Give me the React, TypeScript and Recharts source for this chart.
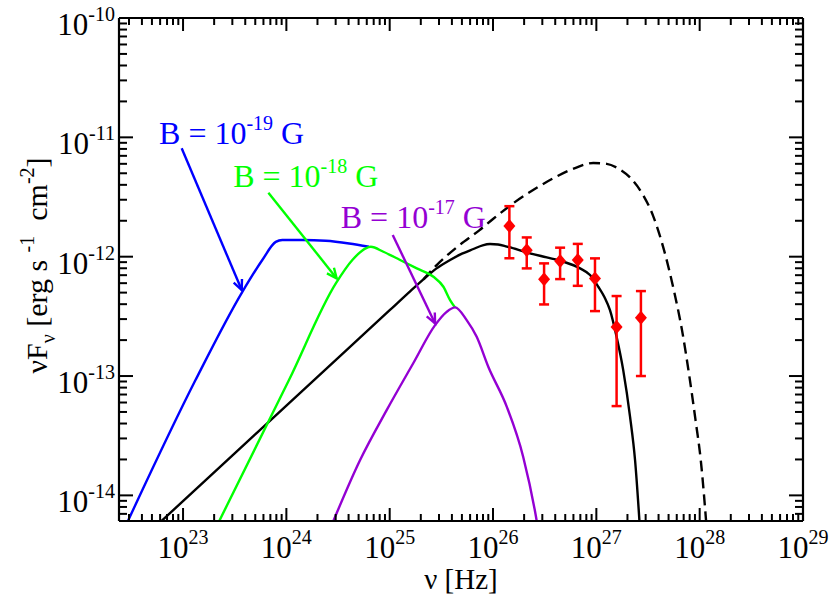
import React from "react";
import {
  ComposedChart,
  Line,
  Scatter,
  ErrorBar,
  XAxis,
  YAxis,
  ReferenceLine,
  ReferenceDot,
} from "recharts";

const X_MIN = 2.4e22;
const X_MAX = 1e29;
const Y_MIN = 6.1e-15;
const Y_MAX = 1e-10;

const xDecades = [22, 23, 24, 25, 26, 27, 28, 29];
const yDecades = [-15, -14, -13, -12, -11, -10];
const minorSteps = [1, 2, 3, 4, 5, 6, 7, 8, 9];

const BLUE = "#0000ff";
const GREEN = "#00ff00";
const PURPLE = "#9400d3";
const RED = "#ff0000";
const FONT = "Liberation Serif";

// [nu (Hz), nuFnu (erg s^-1 cm^-2)]
const blueCurve = [
  [2.63e22, 5.0e-15], [1.32e23, 9.25e-14], [3.75e23, 5.08e-13], [5.85e23, 9.38e-13],
  [7.89e23, 1.33e-12], [9.14e23, 1.38e-12], [1.43e24, 1.38e-12], [2.4e24, 1.36e-12],
  [4.05e24, 1.29e-12], [6.31e24, 1.21e-12],
];

const greenCurve = [
  [2.0e23, 5.0e-15], [1.06e24, 9.25e-14], [3.01e24, 5.97e-13], [4.35e24, 9.38e-13],
  [5.86e24, 1.175e-12], [6.56e24, 1.21e-12], [8.69e24, 1.1e-12], [1.26e25, 9.38e-13],
  [1.83e25, 7.98e-13], [2.65e25, 6.79e-13], [3.31e25, 5.6e-13], [3.84e25, 4.33e-13],
  [4.29e25, 3.76e-13],
];

const purpleCurve = [
  [2.59e24, 5.0e-15], [5.16e24, 1.97e-14], [9.35e24, 5.18e-14], [1.69e25, 1.28e-13],
  [2.75e25, 2.67e-13], [3.56e25, 3.45e-13], [4.29e25, 3.76e-13], [5.56e25, 2.94e-13],
  [6.95e25, 2.13e-13], [9.02e25, 1.19e-13], [1.36e26, 5.52e-14], [1.96e26, 2.1e-14],
  [2.65e26, 6.08e-15], [2.75e26, 5.0e-15],
];

const blackCurve = [
  [5.62e22, 5.65e-15], [3.16e23, 2.25e-14], [1.92e24, 9.53e-14], [1.0e25, 3.56e-13],
  [1.585e25, 5.15e-13], [2.12e25, 6.46e-13], [2.82e25, 7.94e-13], [3.84e25, 9.38e-13],
  [5.01e25, 1.06e-12], [6.46e25, 1.16e-12], [7.94e25, 1.245e-12], [9.35e25, 1.276e-12],
  [1.12e26, 1.265e-12], [1.36e26, 1.216e-12], [2.28e26, 1.067e-12], [3.31e26, 9.86e-13],
  [4.8e26, 9.08e-13], [6.95e26, 7.98e-13], [8.69e26, 7.02e-13], [1.045e27, 5.6e-13],
  [1.2e27, 4.57e-13], [1.355e27, 3.56e-13], [1.57e27, 2.13e-13], [1.82e27, 1.12e-13],
  [2.12e27, 4.55e-14], [2.37e27, 1.97e-14], [2.63e27, 5.6e-15],
];

const dashedCurve = [
  [2.12e25, 6.46e-13], [2.85e25, 8.51e-13], [4.47e25, 1.2e-12], [7.41e25, 1.67e-12],
  [1.0e26, 2.07e-12], [1.585e26, 2.82e-12], [2.51e26, 3.67e-12], [3.98e26, 4.62e-12],
  [6.31e26, 5.56e-12], [9.33e26, 6.1e-12], [1.26e27, 6.0e-12], [1.585e27, 5.56e-12],
  [2.14e27, 4.57e-12], [2.82e27, 3.31e-12], [3.55e27, 2.19e-12], [4.47e27, 1.175e-12],
  [5.62e27, 5.25e-13], [6.76e27, 2.4e-13], [7.94e27, 1.0e-13], [9.12e27, 4.27e-14],
  [1.023e28, 2.0e-14], [1.175e28, 5.0e-15],
];

// observed points
const obsNu = [1.44e26, 2.12e26, 3.12e26, 4.46e26, 6.61e26, 9.7e26, 1.57e27, 2.7e27];
const obsFlux = [1.81e-12, 1.135e-12, 6.46e-13, 9.18e-13, 9.37e-13, 6.58e-13, 2.58e-13, 3.08e-13];
const obsLow = [9.7e-13, 7.98e-13, 3.98e-13, 6.49e-13, 5.7e-13, 3.5e-13, 5.6e-14, 1.0e-13];
const obsHigh = [2.65e-12, 1.45e-12, 8.79e-13, 1.19e-12, 1.28e-12, 9.68e-13, 4.68e-13, 5.15e-13];

const labels = [
  { exp: "-19", x: 5.86e22, y: 8.79e-12, color: BLUE },
  { exp: "-18", x: 3.06e23, y: 3.85e-12, color: GREEN },
  { exp: "-17", x: 3.36e24, y: 1.73e-12, color: PURPLE },
];

const arrows = [
  { from: [9.7e22, 8.09e-12], to: [3.7e23, 5.25e-13], color: BLUE },
  { from: [6.7e23, 3.44e-12], to: [3.07e24, 6.58e-13], color: GREEN },
  { from: [1.07e25, 1.52e-12], to: [2.75e25, 2.76e-13], color: PURPLE },
];

const toXY = (c: number[][]) => c.map(([x, y]) => ({ x, y }));

const obsData = obsNu.map((x, i) => ({
  x,
  y: obsFlux[i],
  err: [obsFlux[i] - obsLow[i], obsHigh[i] - obsFlux[i]],
}));

const buildTicks = (decades: number[], lo: number, hi: number) => {
  const out: number[] = [];
  decades.forEach((d) =>
    minorSteps.forEach((m) => {
      const v = m * Math.pow(10, d);
      if (v >= lo && v <= hi * 1.0001) out.push(v);
    })
  );
  return out;
};
const xTicks = buildTicks(xDecades, X_MIN, X_MAX);
const yTicks = buildTicks(yDecades, Y_MIN, Y_MAX);

const expOf = (v: number) => Math.round(Math.log10(v));
const isMajor = (v: number) => Math.abs(Math.log10(v) - expOf(v)) < 1e-6;

const TICK_W = 2;

function BottomTick(p: any) {
  const v = p.payload.value;
  const major = isMajor(v);
  return (
    <g>
      <line x1={p.x} x2={p.x} y1={p.y} y2={p.y - (major ? 13 : 7)} stroke="#000" strokeWidth={TICK_W} />
      {major && (
        <text x={p.x} y={p.y + 37} textAnchor="middle" fontFamily={FONT} fontSize={31} fill="#000">
          10<tspan dy={-14} fontSize={20}>{expOf(v)}</tspan>
        </text>
      )}
    </g>
  );
}

function TopTick(p: any) {
  const major = isMajor(p.payload.value);
  return <line x1={p.x} x2={p.x} y1={p.y} y2={p.y + (major ? 13 : 7)} stroke="#000" strokeWidth={TICK_W} />;
}

function LeftTick(p: any) {
  const v = p.payload.value;
  const major = isMajor(v);
  return (
    <g>
      <line x1={p.x} x2={p.x + (major ? 14 : 8)} y1={p.y} y2={p.y} stroke="#000" strokeWidth={TICK_W} />
      {major && (
        <text x={p.x - 4} y={p.y + 17} textAnchor="end" fontFamily={FONT} fontSize={31} fill="#000">
          10<tspan dy={-14} fontSize={20}>{expOf(v)}</tspan>
        </text>
      )}
    </g>
  );
}

function RightTick(p: any) {
  const major = isMajor(p.payload.value);
  return <line x1={p.x} x2={p.x - (major ? 14 : 8)} y1={p.y} y2={p.y} stroke="#000" strokeWidth={TICK_W} />;
}

const arrowShape = (color: string) => (p: any) => {
  const { x1, y1, x2, y2 } = p;
  const a = Math.atan2(y2 - y1, x2 - x1);
  const L = 11;
  const w = 0.42;
  const d = `M${x2 - L * Math.cos(a - w)},${y2 - L * Math.sin(a - w)} L${x2},${y2} L${x2 - L * Math.cos(a + w)},${y2 - L * Math.sin(a + w)}`;
  return (
    <g>
      <line x1={x1} y1={y1} x2={x2} y2={y2} stroke={color} strokeWidth={2.4} />
      <path d={d} fill="none" stroke={color} strokeWidth={2.4} />
    </g>
  );
};

const labelShape = (exp: string, color: string) => (p: any) => (
  <text x={p.cx} y={p.cy} fontFamily={FONT} fontSize={32} fill={color} style={{ whiteSpace: "pre" }}>
    B = 10<tspan dy={-14} fontSize={20}>{exp}</tspan>
    <tspan dy={14}> G</tspan>
  </text>
);

const Diamond = (p: any) => {
  const { cx, cy } = p;
  if (cx == null || cy == null) return null;
  return <polygon points={`${cx},${cy - 7} ${cx + 6},${cy} ${cx},${cy + 7} ${cx - 6},${cy}`} fill={RED} />;
};

const xTitle = (p: any) => {
  const vb = p.viewBox || { x: 119, y: 521, width: 684 };
  return (
    <text x={vb.x + vb.width / 2} y={vb.y + 68} textAnchor="middle" fontFamily={FONT} fontSize={29} fill="#000">
      ν [Hz]
    </text>
  );
};

const yTitle = (p: any) => {
  const vb = p.viewBox || { x: 0, y: 18, width: 119, height: 503 };
  const cx = vb.x + vb.width - 72;
  const cy = vb.y + vb.height / 2 - 4;
  return (
    <text
      transform={`translate(${cx},${cy}) rotate(-90)`}
      textAnchor="middle"
      fontFamily={FONT}
      fontSize={30}
      fill="#000"
      style={{ whiteSpace: "pre" }}
    >
      νF<tspan dy={8} fontSize={20}>ν</tspan>
      <tspan dy={-8}> [erg s </tspan>
      <tspan dy={-13} fontSize={20}>-1</tspan>
      <tspan dy={13}>  cm</tspan>
      <tspan dy={-13} fontSize={20}>-2</tspan>
      <tspan dy={13}>]</tspan>
    </text>
  );
};

export default function App() {
  const axisLine = { stroke: "#000", strokeWidth: 2.2 };
  const common = { xAxisId: "b", yAxisId: "l" };
  return (
    <div style={{ position: "absolute", left: 0, top: 0, width: 830, height: 596, background: "#fff" }}>
      <ComposedChart width={830} height={596} margin={{ top: 0, right: 0, bottom: 0, left: 0 }}>
        <XAxis
          xAxisId="b"
          type="number"
          dataKey="x"
          scale="log"
          domain={[X_MIN, X_MAX]}
          allowDataOverflow
          ticks={xTicks}
          interval={0}
          tick={<BottomTick />}
          tickLine={false}
          tickSize={0}
          tickMargin={0}
          axisLine={axisLine}
          height={75}
          label={xTitle}
        />
        <XAxis
          xAxisId="t"
          orientation="top"
          type="number"
          dataKey="x"
          scale="log"
          domain={[X_MIN, X_MAX]}
          allowDataOverflow
          ticks={xTicks}
          interval={0}
          tick={<TopTick />}
          tickLine={false}
          tickSize={0}
          tickMargin={0}
          axisLine={axisLine}
          height={18}
        />
        <YAxis
          yAxisId="l"
          type="number"
          dataKey="y"
          scale="log"
          domain={[Y_MIN, Y_MAX]}
          allowDataOverflow
          ticks={yTicks}
          interval={0}
          tick={<LeftTick />}
          tickLine={false}
          tickSize={0}
          tickMargin={0}
          axisLine={axisLine}
          width={119}
          label={yTitle}
        />
        <YAxis
          yAxisId="r"
          orientation="right"
          type="number"
          dataKey="y"
          scale="log"
          domain={[Y_MIN, Y_MAX]}
          allowDataOverflow
          ticks={yTicks}
          interval={0}
          tick={<RightTick />}
          tickLine={false}
          tickSize={0}
          tickMargin={0}
          axisLine={axisLine}
          width={27}
        />

        <Line {...common} data={toXY(dashedCurve)} dataKey="y" type="monotone" stroke="#000" strokeWidth={2.4} strokeDasharray="11 6" dot={false} isAnimationActive={false} />
        <Line {...common} data={toXY(blackCurve)} dataKey="y" type="monotone" stroke="#000" strokeWidth={2.4} dot={false} isAnimationActive={false} />
        <Line {...common} data={toXY(blueCurve)} dataKey="y" type="monotone" stroke={BLUE} strokeWidth={2.4} dot={false} isAnimationActive={false} />
        <Line {...common} data={toXY(greenCurve)} dataKey="y" type="monotone" stroke={GREEN} strokeWidth={2.4} dot={false} isAnimationActive={false} />
        <Line {...common} data={toXY(purpleCurve)} dataKey="y" type="monotone" stroke={PURPLE} strokeWidth={2.4} dot={false} isAnimationActive={false} />

        {arrows.map((a, i) => (
          <ReferenceLine
            key={"a" + i}
            {...common}
            segment={[{ x: a.from[0], y: a.from[1] }, { x: a.to[0], y: a.to[1] }]}
            shape={arrowShape(a.color)}
            ifOverflow="visible"
          />
        ))}
        {labels.map((l, i) => (
          <ReferenceDot key={"l" + i} {...common} x={l.x} y={l.y} r={0} shape={labelShape(l.exp, l.color)} ifOverflow="visible" />
        ))}

        <Scatter {...common} data={obsData} shape={<Diamond />} isAnimationActive={false}>
          <ErrorBar dataKey="err" direction="y" width={5} stroke={RED} strokeWidth={2.5} />
        </Scatter>
      </ComposedChart>
    </div>
  );
}
